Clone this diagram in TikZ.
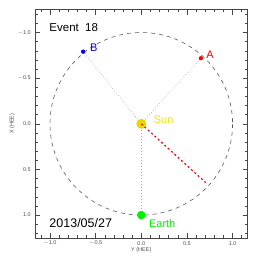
\documentclass[tikz,border=0pt]{standalone}
\usepackage{fontspec}
\setmainfont{Liberation Sans}
\definecolor{sunyel}{RGB}{228,218,0}
\definecolor{sunlab}{RGB}{235,230,20}
\definecolor{earthgr}{RGB}{0,240,0}
\definecolor{framegr}{RGB}{70,70,70}
\begin{document}
\begin{tikzpicture}[x=91.3pt,y=-91.3pt,
  framest/.style={draw=framegr,line width=0.6pt},
  tickst/.style={draw=framegr,line width=0.5pt},
  ticklab/.style={font=\fontsize{5.5}{6}\selectfont,text=black!70,inner sep=0pt},
  orbit/.style={draw=black!65,dashed,dash pattern=on 4pt off 4pt,line width=0.6pt},
  sight/.style={draw=black!35,dash pattern=on 0.8pt off 2.2pt,line width=0.6pt},
  dot/.style={circle,inner sep=0pt,draw=none},
  lab/.style={font=\fontsize{11}{12}\selectfont,inner sep=0pt}]
\useasboundingbox (-1.5476,-1.356) rectangle (1.2782,1.470);
% frame
\draw[framest] (-1.165,-1.25) rectangle (1.165,1.25);
% minor ticks
\foreach \i in {-11,...,11}{
  \draw[tickst] (\i/10,-1.25) -- ++(0,-2.7pt);
  \draw[tickst] (\i/10,1.25) -- ++(0,2.7pt);
}
\foreach \j in {-12,...,12}{
  \draw[tickst] (-1.165,\j/10) -- ++(2.7pt,0);
  \draw[tickst] (1.165,\j/10) -- ++(-2.7pt,0);
}
% major ticks and labels
\foreach \m/\t in {-1/{$-$1.0},-0.5/{$-$0.5},0/0.0,0.5/0.5,1/1.0}{
  \draw[tickst] (\m,-1.25) -- ++(0,-5pt);
  \draw[tickst] (\m,1.25) -- ++(0,5pt);
  \draw[tickst] (-1.165,\m) -- ++(5pt,0);
  \draw[tickst] (1.165,\m) -- ++(-5pt,0);
  \node[ticklab] at (\m,1.311) {\t};
  \node[ticklab,anchor=east] at (-1.209,\m) {\t};
}
\node[ticklab] (ylab) at (0,1.379) {Y (HEE)};
\node[ticklab,rotate=90] (xlab) at (-1.413,0) {X (HEE)};
% bodies
\node[dot,minimum size=10pt] (sunpos) at (0,0) {};
\node[dot,fill=red,minimum size=4pt] (A) at (0.653,-0.718) {};
\node[dot,fill=blue,minimum size=4pt] (B) at (-0.637,-0.79) {};
\node[dot,minimum size=8.5pt] (earthpos) at (0,1.0) {};
\coordinate (dir) at (0.706,0.645);
% sight lines
\draw[sight] (sunpos.center) -- (A.center);
\draw[sight] (sunpos.center) -- (B.center);
\draw[sight] (sunpos.center) -- (earthpos.center);
% orbit
\draw[orbit] (sunpos.center) circle[radius=1];
% sun and earth disks
\node[dot,fill=sunyel,minimum size=10pt] (sun) at (sunpos) {};
\node[dot,fill=earthgr,minimum size=8.5pt] (earth) at (earthpos) {};
\node[dot,fill=red,minimum size=4pt] (A2) at (A) {};
\node[dot,fill=blue,minimum size=4pt] (B2) at (B) {};
% direction
\draw[red,line width=1.2pt,dash pattern=on 2pt off 2.5pt] (sun.center) -- (dir);
% labels
\node[lab,text=red] (Alab) at (0.752,-0.756) {A};
\node[lab,text=blue] (Blab) at (-0.521,-0.830) {B};
\node[lab,text=sunlab] (sunlab) at (0.245,-0.042) {Sun};
\node[lab,text=earthgr] (earthlab) at (0.229,1.097) {Earth};
\node[lab,font=\fontsize{11.5}{12}\selectfont,anchor=west] (event) at (-1.008,-1.049) {Event\ \ 18};
\node[lab,font=\fontsize{12.5}{13}\selectfont,anchor=west] (date) at (-1.008,1.087) {2013/05/27};
\end{tikzpicture}
\end{document}
